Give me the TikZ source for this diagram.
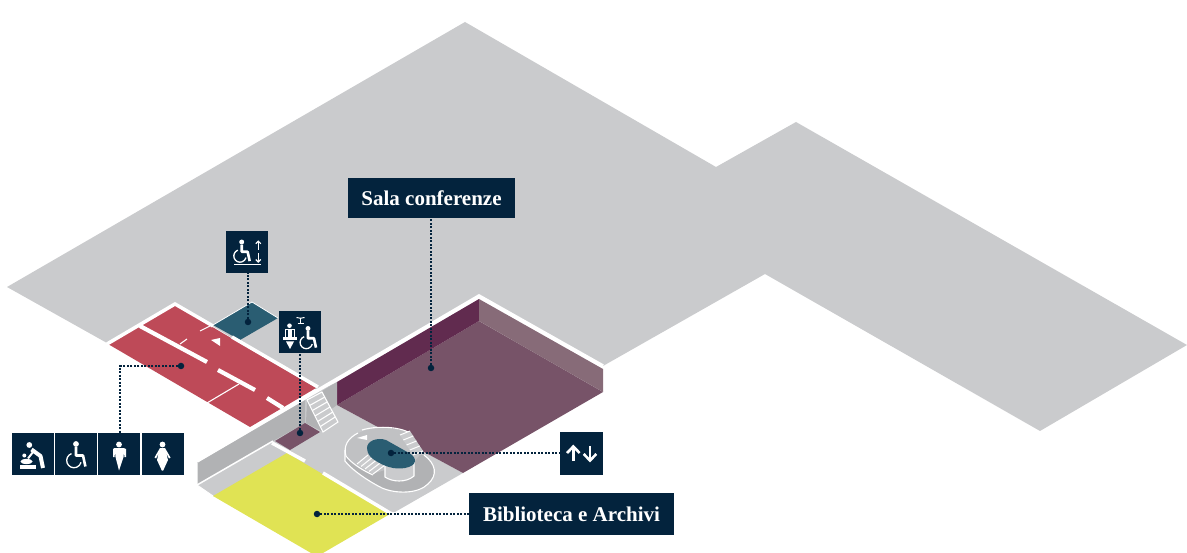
\documentclass[tikz,border=0pt]{standalone}
\usepackage{fontspec}
\usetikzlibrary{calc}
\setmainfont{Liberation Serif}
\definecolor{navy}{HTML}{03233D}
\definecolor{floorg}{HTML}{CACBCD}
\definecolor{wallg}{HTML}{B1B2B4}
\definecolor{ringg}{HTML}{C0C1C3}
\definecolor{redroom}{HTML}{BE4A58}
\definecolor{tealroom}{HTML}{2A5D72}
\definecolor{yellowroom}{HTML}{E0E354}
\definecolor{plumfloor}{HTML}{775368}
\definecolor{plumleft}{HTML}{612B4F}
\definecolor{plumright}{HTML}{876B78}
\tikzset{
  x=1pt,y=-1pt,
  iconbox/.style={fill=navy,minimum size=42pt,inner sep=0pt,outer sep=0pt,anchor=north west},
  labelbox/.style={fill=navy,text=white,inner sep=0pt,outer sep=0pt,font=\fontsize{21}{23}\selectfont\bfseries},
  pin/.style={circle,fill=navy,minimum size=6.5pt,inner sep=0pt,outer sep=0pt},
  leader/.style={navy,line width=1.2pt,dash pattern=on 1.8pt off 1.7pt},
  wallw/.style={white,line width=3.5pt},
  roomw/.style={white,line width=4.2pt},
  thinw/.style={white,line width=1.1pt},
  glyph/.style={white,line width=2.6pt,line join=round},
  glyphthin/.style={white,line width=1.3pt}
}
% wheelchair: head at local origin (0,0)
\newcommand{\wchairglyph}[1]{%
  \begin{scope}[scale=#1]
    \fill[white] (0,0) circle[radius=2.9];
    \draw[glyph] (0,3.2) -- (0,11.5) -- (7,11.5) -- (9.4,22.5);
    \draw[glyphthin] (-4.5,9.6) arc[start angle=-110,end angle=-345,radius=7.3];
  \end{scope}}
\begin{document}
\begin{tikzpicture}
\useasboundingbox (0,0) rectangle (1187,553);
% floor
\fill[floorg] (7,287) -- (465,22) -- (716,167) -- (796,122) -- (1187,345) -- (1040,431) -- (765,274) -- (603,366) -- (479,296) -- (317,390) -- (175,303) -- (107,343) -- cycle;
\fill[floorg] (197,463) -- (320,390) -- (337,382) -- (337,405) -- (463,473) -- (395,512) -- (213,496) -- (197,485) -- cycle;
% rooms
\fill[redroom] (108,344) -- (175,305) -- (316,388) -- (250,427) -- cycle;
\fill[tealroom] (213,325) -- (252,302) -- (278,318) -- (240,340) -- cycle;
\draw[white,line width=.8pt] (213,325) -- (252,302) -- (278,318);
\fill[yellowroom] (213,496) -- (287,453) -- (390,514) -- (323,553) -- (311,553) -- cycle;
% conference room
\fill[plumfloor] (337,405) -- (479,321) -- (603,392) -- (463,473) -- cycle;
\fill[plumleft] (337,405) -- (337,382) -- (479,299) -- (479,321) -- cycle;
\fill[plumright] (479,299) -- (603,369) -- (603,392) -- (479,321) -- cycle;
% corridor walls
\fill[wallg] (197,463) -- (305,400) -- (305,423) -- (273,441) -- (197,485) -- cycle;
\fill[wallg] (322,391) -- (337,382) -- (337,405) -- (330,410) -- cycle;
\fill[wallg] (307,400) -- (323,432) -- (306,423) -- cycle;
\fill[plumfloor] (275,441) -- (305,423) -- (320,432) -- (290,450) -- cycle;
% stairs
\fill[floorg] (307,400) -- (322,392) -- (338,422) -- (323,432) -- cycle;
\draw[white,line width=1.1pt,line join=miter] (307,400) -- (322,392) -- (338,422) -- (323,432) -- cycle;
\foreach \t in {.17,.33,.5,.67,.83}
  \draw[thinw] ($(307,400)!\t!(323,432)$) -- ($(322,392)!\t!(338,422)$);
% white lines
\draw[wallw] (107,344) -- (175,304) -- (213,326);
\draw[wallw] (232,337) -- (318,387);
\draw[wallw] (603,366) -- (479,296) -- (197,461);
\draw[white,line width=1.5pt] (197,485) -- (273,441);
\draw[white,line width=1pt] (197,463) -- (197,485) -- (213,496);
\draw[wallw] (272,443) -- (305,461);
\draw[wallw] (323,473) -- (390,513);
\draw[roomw] (140,326) -- (207,362);
\draw[roomw] (218,370) -- (255,390);
\draw[roomw] (267,398) -- (283,408);
\draw[thinw] (207,403) -- (239,384);
\draw[thinw] (180,344) -- (187,339);
\draw[thinw] (200,331) -- (210,326);
\fill[white] (211,340) -- (220,338) -- (220,346) -- cycle;
% spiral stair
\fill[wallg] (345,450) -- (345,461) .. controls (352,470) and (368,481) .. (382,488) .. controls (396,494) and (418,494) .. (428,484) .. controls (438,475) and (436,464) .. (424,455) -- cycle;
\draw[white,line width=1.1pt] (345,450) -- (345,461) .. controls (352,470) and (368,481) .. (382,488) .. controls (396,494) and (418,494) .. (428,484) .. controls (438,475) and (436,464) .. (424,455);
\fill[ringg] (345,450) .. controls (345,434) and (370,426) .. (390,428) .. controls (400,429) and (406,431) .. (410,433) -- (423,451) -- (414,462) -- (385,470) -- (372,474) .. controls (362,470) and (346,460) .. (345,450) -- cycle;
\draw[white,line width=1.1pt] (346,456) .. controls (343,446) and (348,438) .. (358,433);
\draw[white,line width=1.1pt] (362,430) .. controls (375,426) and (398,426) .. (410,433);
\draw[white,line width=1.1pt] (346,456) .. controls (352,464) and (364,471) .. (373,475);
% lower stair
\fill[floorg] (357,464) -- (368,455) -- (385,465) -- (373,474) -- cycle;
\foreach \t in {0,.25,.5,.75,1}
  \draw[white,line width=1pt] ($(357,464)!\t!(373,474)$) -- ($(368,455)!\t!(385,465)$);
% upper stair
\fill[floorg] (400,435) -- (410,431) -- (423,451) -- (413,455) -- cycle;
\foreach \t in {0,.25,.5,.75,1}
  \draw[white,line width=1pt] ($(400,435)!\t!(413,455)$) -- ($(410,431)!\t!(423,451)$);
\fill[white] (357,438) -- (367,435) -- (367,440) -- cycle;
% core
\fill[floorg] (385,466) -- (385,477) .. controls (392,482) and (406,483) .. (414,476) -- (414,460) -- cycle;
\draw[white,line width=1.1pt] (385,466) -- (385,477) .. controls (392,482) and (406,483) .. (414,476) -- (414,461);
\fill[tealroom] (367,448) .. controls (367,441) and (377,437) .. (386,440) -- (409,453) .. controls (418,458) and (417,466) .. (405,468) .. controls (394,470) and (384,466) .. (376,461) .. controls (371,458) and (367,454) .. (367,448) -- cycle;
% pins
\node[pin] (pinWC) at (181,366) {};
\node[pin] (pinLift) at (248,322) {};
\node[pin] (pinDesk) at (300,433) {};
\node[pin] (pinSala) at (431,368) {};
\node[pin] (pinStair) at (391,453) {};
\node[pin] (pinBib) at (317,514) {};
% boxes
\node[iconbox] (bBaby) at (12,433) {};
\node[iconbox] (bChair) at (55,433) {};
\node[iconbox] (bMan) at (98,433) {};
\node[iconbox] (bWoman) at (142,433) {};
\node[iconbox] (bLift) at (226,231) {};
\node[iconbox] (bDesk) at (279,311) {};
\node[iconbox,minimum width=43pt,minimum height=43pt] (bArrows) at (560,432) {};
\node[labelbox,minimum width=167pt,minimum height=40pt] (bSala) at (431.5,198) {Sala conferenze};
\node[labelbox,minimum width=205pt,minimum height=42pt] (bBib) at (571.5,514) {Biblioteca e Archivi};
% leaders
\coordinate (elbow) at (120,366);
\draw[leader] (pinWC) -- (elbow) -- (elbow |- bMan.north);
\draw[leader] (pinLift) -- (pinLift |- bLift.south);
\draw[leader] (pinDesk) -- (pinDesk |- bDesk.south);
\draw[leader] (pinSala) -- (pinSala |- bSala.south);
\draw[leader] (pinStair) -- (bArrows.west |- pinStair);
\draw[leader] (pinBib) -- (bBib.west |- pinBib);
% baby icon
\begin{scope}[shift={(12,433)}]
  \fill[white] (17.3,12) circle[radius=2.9];
  \draw[white,line width=4pt,line join=round] (19.5,16.5) -- (28.5,23) -- (31,35);
  \draw[white,line width=2pt] (21,19) -- (16,25.5);
  \fill[white] (12.3,22.5) circle[radius=2];
  \fill[white] (14.5,28.5) ellipse[x radius=6,y radius=2.6];
  \fill[white] (8,32) rectangle (23.5,35.5);
\end{scope}
% wheelchair icon
\begin{scope}[shift={(76,444)}]
  \wchairglyph{1}
\end{scope}
% man
\begin{scope}[shift={(98,433)}]
  \fill[white] (21,11.5) circle[radius=2.9];
  \fill[white] (16.5,15) -- (25.5,15) -- (28,16) -- (28,24) -- (26.4,24) -- (26,18.5) -- (25.5,24) -- (21,37.5) -- (17.5,24) -- (17,18.5) -- (16.6,24) -- (15,24) -- (15,16) -- cycle;
\end{scope}
% woman
\begin{scope}[shift={(142,433)}]
  \fill[white] (20.5,11.5) circle[radius=2.9];
  \fill[white] (18,15) -- (23,15) -- (28.5,24.5) -- (27,25.5) -- (24.2,20) -- (26,27) -- (21.2,37.5) -- (19.8,37.5) -- (15,27) -- (16.8,20) -- (14,25.5) -- (12.5,24.5) -- cycle;
\end{scope}
% lift icon
\begin{scope}[shift={(226,231)}]
  \begin{scope}[shift={(15.7,11)}]\wchairglyph{.85}\end{scope}
  \draw[white,line width=1.6pt] (8,33.7) -- (35,33.7);
  \draw[white,line width=1.2pt] (32.3,19) -- (32.3,10.2);
  \draw[white,line width=1.2pt] (29.8,12.7) -- (32.3,10.2) -- (34.8,12.7);
  \draw[white,line width=1.2pt] (32.3,22.5) -- (32.3,31);
  \draw[white,line width=1.2pt] (29.8,28.5) -- (32.3,31) -- (34.8,28.5);
\end{scope}
% desk icon
\begin{scope}[shift={(279,311)}]
  \draw[white,line width=1pt] (17.5,6.5) .. controls (20,7.5) and (23,7.5) .. (25.5,6.5);
  \draw[white,line width=1pt] (21.5,7.3) -- (21.5,12);
  \draw[white,line width=1pt] (18.5,12.3) -- (24.5,12.3);
  \fill[white] (10.5,14.7) circle[radius=2.3];
  \draw[white,line width=1pt] (6,26) -- (6,18.5) -- (15,18.5) -- (15,26);
  \fill[white] (8.5,18.5) rectangle (12.5,26);
  \fill[white] (3.5,26) rectangle (18,29.5);
  \fill[white] (7,30.5) -- (15,30.5) -- (11,38) -- cycle;
  \begin{scope}[shift={(29,17.5)}]\wchairglyph{.85}\end{scope}
\end{scope}
% arrows icon
\begin{scope}[shift={(560,432)}]
  \draw[white,line width=2.6pt] (13.3,29) -- (13.3,15);
  \draw[white,line width=2.6pt] (7,21) -- (13.3,14.5) -- (19.6,21);
  \draw[white,line width=2.6pt] (30,14) -- (30,28);
  \draw[white,line width=2.6pt] (23.7,22) -- (30,28.5) -- (36.3,22);
\end{scope}
\end{tikzpicture}
\end{document}
